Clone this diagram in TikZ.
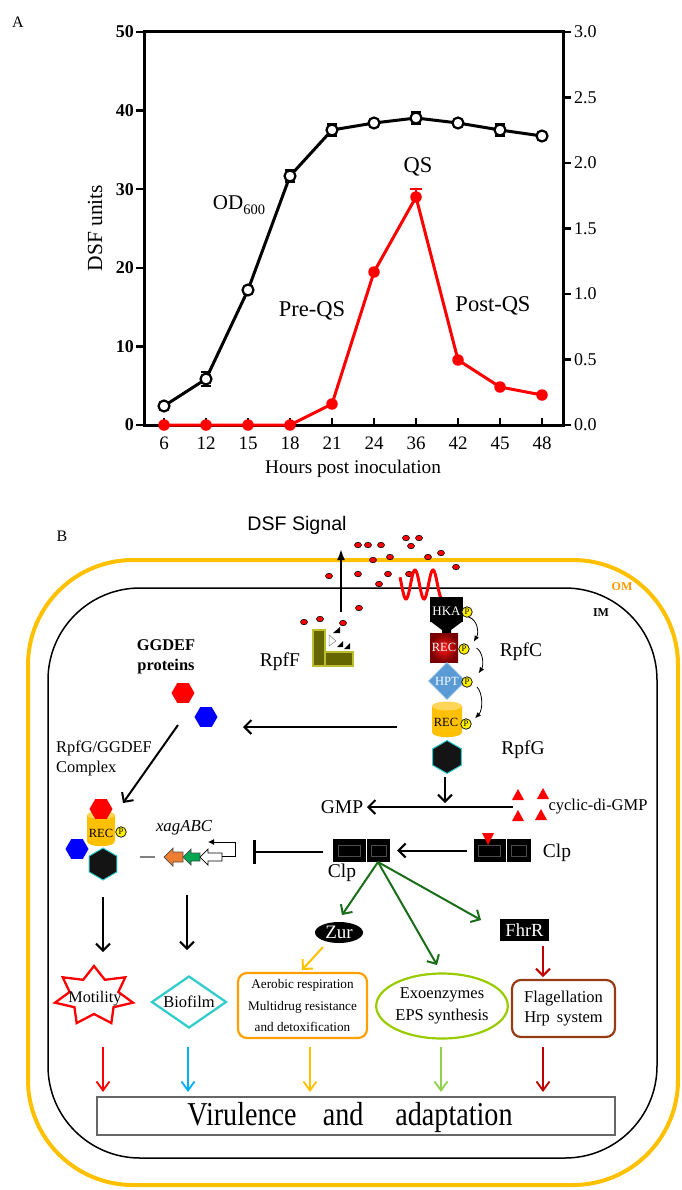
\documentclass[tikz,border=0pt]{standalone}
\usepackage{fontspec}
\setmainfont{Liberation Serif}
\newfontfamily\sansf{Liberation Sans}
\usetikzlibrary{arrows.meta,shapes.geometric,calc}
\newcommand\fsz[1]{\fontsize{#1}{#1}\selectfont}
\newcommand\fszl[2]{\fontsize{#1}{#2}\selectfont}
\definecolor{omc}{RGB}{255,192,0}
\definecolor{omlab}{RGB}{255,153,0}
\definecolor{olivef}{RGB}{102,102,0}
\definecolor{olived}{RGB}{190,190,40}
\definecolor{recred}{RGB}{120,0,0}
\definecolor{hptblue}{RGB}{91,155,213}
\definecolor{recy}{RGB}{255,192,0}
\definecolor{cyanb}{RGB}{51,204,204}
\definecolor{dgreen}{RGB}{26,110,26}
\definecolor{orbox}{RGB}{255,160,0}
\definecolor{ygreen}{RGB}{153,204,0}
\definecolor{brownb}{RGB}{150,60,20}
\definecolor{dred}{RGB}{192,0,0}
\definecolor{lblue}{RGB}{0,176,240}
\definecolor{lgreen}{RGB}{146,208,80}
\definecolor{orng}{RGB}{237,125,49}
\definecolor{grn}{RGB}{0,166,81}
\begin{document}
\begin{tikzpicture}[x=1pt,y=-1pt,
 odm/.style={circle,draw=black,fill=white,line width=2.2pt,minimum size=11pt,inner sep=0},
 dsm/.style={circle,fill=red,minimum size=11.5pt,inner sep=0},
 dsfdot/.style={ellipse,draw=black,line width=0.6pt,fill=red,minimum width=7pt,minimum height=5.5pt,inner sep=0},
 pc/.style={circle,draw=black,line width=0.7pt,fill=yellow,minimum size=10.5pt,inner sep=0,font=\fsz{8.5}},
 blkarr/.style={line width=2pt,-{Straight Barb[length=7pt,width=14pt]}},
 grarr/.style={dgreen,line width=2pt,-{Straight Barb[length=7pt,width=14pt]}},
 hexr/.style={regular polygon,regular polygon sides=6,fill=red,minimum size=23pt,inner sep=0},
 hexb/.style={regular polygon,regular polygon sides=6,fill=blue,minimum size=23pt,inner sep=0},
 hexk/.style={regular polygon,regular polygon sides=6,shape border rotate=30,fill=black!92,draw=cyanb,line width=1pt,minimum size=33pt,inner sep=0},
 clpbox/.style={rectangle,fill=black,minimum width=57pt,minimum height=23pt,inner sep=0},
 pthin/.style={line width=0.8pt,-{Latex[length=6pt,width=5pt]}},
 lbl/.style={inner sep=0,font=\fsz{19.5}}
]
\useasboundingbox (0,0) rectangle (681,1190);

% ================= Panel A =================
\node[font=\fsz{16}] (labA) at (18,22) {A};
\draw[line width=3pt] (144,32) rectangle (563,425);
\foreach \v in {0,10,20,30,40,50} {
  \draw[line width=2.5pt] (136,{425-\v*7.86}) -- (144,{425-\v*7.86});
  \node[anchor=east,font=\fsz{18}\bfseries,inner sep=0] (ly\v) at (134,{425-\v*7.86}) {\v};
}
\foreach \v/\t in {0/0.0,1/0.5,2/1.0,3/1.5,4/2.0,5/2.5,6/3.0} {
  \draw[line width=2.5pt] (563,{425-\v*65.5}) -- (571,{425-\v*65.5});
  \node[anchor=west,font=\fsz{18},inner sep=0] (ry\v) at (574,{425-\v*65.5}) {\t};
}
\foreach \x/\t [count=\i] in {164/6,206/12,248/15,290/18,332/21,374/24,416/36,458/42,500/45,542/48} {
  \draw[line width=2.5pt] (\x,425) -- (\x,418);
  \node[font=\fsz{19},inner sep=0] (xt\i) at (\x,443) {\t};
}
\node[font=\fsz{19.3}] (xlab) at (353,469) {Hours post inoculation};
\node[font=\fsz{21.5},rotate=90] (ylab) at (95,228) {DSF units};

% OD600 series
\draw[line width=3pt] (164,406) -- (206,379) -- (248,290) -- (290,176) -- (332,130) -- (374,123) -- (416,118) -- (458,123) -- (500,130) -- (542,136);
\foreach \x/\a/\b in {206/372/386,290/170/182,332/124/136,416/112/124,500/124/136} {
  \draw[line width=2.2pt] (\x,\a) -- (\x,\b);
  \draw[line width=2.2pt] (\x-5,\a) -- (\x+5,\a);
  \draw[line width=2.2pt] (\x-5,\b) -- (\x+5,\b);
}
\foreach \x/\y [count=\i] in {164/406,206/379,248/290,290/176,332/130,374/123,416/118,458/123,500/130,542/136}
  \node[odm] (om\i) at (\x,\y) {};

% DSF series
\draw[red,line width=3pt] (164,425) -- (206,425) -- (248,425) -- (290,425) -- (332,404) -- (374,272) -- (416,197) -- (458,360) -- (500,387) -- (542,395);
\draw[red,line width=2.2pt] (416,189) -- (416,197) (410,189) -- (422,189);
\foreach \x/\y [count=\i] in {164/425,206/425,248/425,290/425,332/404,374/272,416/197,458/360,500/387,542/395}
  \node[dsm] (rm\i) at (\x,\y) {};

\node[font=\fsz{21}] (odlab) at (239,205) {OD\raisebox{-0.5ex}{\fsz{14.5}600}};
\node[font=\fsz{22.5}] (qslab) at (418,167) {QS};
\node[font=\fsz{22.5}] (prelab) at (312,311) {Pre-QS};
\node[font=\fsz{22.5}] (postlab) at (493,306) {Post-QS};

% ================= Panel B =================
\node[font=\fsz{16}] (labB) at (62,536) {B};
\node[font=\sansf\fsz{19.6}] (dsfsig) at (297,525) {DSF Signal};

\draw[omc,line width=4pt,rounded corners=105pt] (28,560) rectangle (678,1185);
\draw[black,line width=1.5pt,rounded corners=92pt] (48,588) rectangle (657,1158);
\node[text=omlab,font=\fsz{12}\bfseries] (omlabel) at (622,587) {OM};
\node[font=\fsz{12}\bfseries] (imlabel) at (601,613) {IM};

% DSF export arrow
\coordinate (dsfstart) at (341,612);
\coordinate (dsfend) at (341,549);
\draw[line width=2pt,-{Latex[length=11pt,width=8pt]}] (dsfstart) -- (dsfend);

% DSF molecules
\foreach \x/\y [count=\i] in {304/622,320/619,343/623,329/576,358/574,379/584,359/608,358/545,368/545,381/545,373/560,390/557,406/538,419/538,411/546,428/557,441/553,456/567,388/574,409/574}
  \node[dsfdot] (d\i) at (\x,\y) {};

% transmembrane sensor
\draw[red,line width=3pt,domain=400:441.5,samples=80,smooth] plot (\x,{584.5-14.5*cos(20*(\x-415))});

% RpfF
\draw[olived,fill=olivef,line width=1.5pt] (313,630) rectangle (325,666);
\draw[olived,fill=olivef,line width=1.5pt] (325,652) rectangle (353,666);
\fill (333,633) -- (340,627) -- (340,633) -- cycle;
\draw[gray,fill=white,line width=0.5pt] (329,635) -- (336,641) -- (329,646) -- cycle;
\fill (337,647) -- (343,641) -- (343,647) -- cycle;
\fill (344,649) -- (350,643) -- (350,649) -- cycle;
\node[lbl] (rpff) at (280,662) {RpfF};

% RpfC: HKA / REC / HPT
\fill (430,597) rectangle (463,622);
\fill (430,621) -- (463,621) -- (451,630) -- (451,633) -- (442,633) -- (442,630) -- cycle;
\node[text=white,font=\fsz{13},inner sep=0] (hka) at (446.5,611) {HKA};
\node[rectangle,inner color=red!90!white,outer color=recred,minimum width=28pt,minimum height=29pt,inner sep=0,text=white,font=\fsz{12.5}] (recc) at (444,647.5) {REC};
\node[diamond,fill=hptblue,draw=hptblue!70!white,line width=0.8pt,minimum width=37pt,minimum height=37pt,inner sep=0] (hptd) at (447,681) {};
\node[text=white,font=\fsz{12.5},inner sep=0] (hpt) at (447,681) {HPT};

% RpfG: REC cylinder + HD-GYP
\fill[recy] (432,706) -- (432,732) .. controls (432,739) and (462,739) .. (462,732) -- (462,706) -- cycle;
\fill[recy!65!white] (447,706) ellipse[x radius=15,y radius=4.5];
\node[font=\fsz{12.5},inner sep=0] (recg) at (446,722) {REC};
\node[hexk] (hdg) at (447,757) {};

\node[pc] (p1) at (467,612) {P};
\node[pc] (p2) at (464,649) {P};
\node[pc] (p3) at (467,682) {P};
\node[pc] (p4) at (466,724) {P};
\draw[pthin] ($(p1)+(1.6,5)$) .. controls (478,620) and (479,633) .. ($(p2)+(9.7,-7.3)$);
\draw[pthin] ($(p2)+(12.5,-1)$) .. controls (483,652) and (484,665) .. ($(p3)+(11.7,-8.7)$);
\draw[pthin] ($(p3)+(10,5)$) .. controls (483,693) and (483,710) .. ($(p4)+(9,-5.7)$);

\node[lbl] (rpfc) at (521,652) {RpfC};
\node[lbl] (rpfg) at (523,750) {RpfG};

% GGDEF proteins
\node[font=\fszl{16.4}{20}\bfseries,align=center,inner sep=0] (ggdef) at (166,657) {GGDEF\\proteins};
\node[hexr] (ggr) at (183,693) {};
\node[hexb] (ggb) at (206,717) {};
\coordinate (rgl) at (397,727);
\coordinate (rgr) at (243,727);
\draw[blkarr] (rgl) -- (rgr);
\coordinate (cxs) at (178,725);
\coordinate (cxe) at (123,803);
\draw[blkarr] (cxs) -- (cxe);
\node[font=\fszl{16.4}{20},align=left,anchor=west,inner sep=0] (cxlab) at (56,758) {RpfG/GGDEF\\Complex};

% RpfG/GGDEF complex
\node[hexk,minimum size=32pt] (cxk) at (103,864) {};
\node[hexb] (cxb) at (77,849) {};
\fill[recy] (87,815) -- (87,841) .. controls (87,848) and (115,848) .. (115,841) -- (115,815) -- cycle;
\fill[recy!65!white] (101,815) ellipse[x radius=14,y radius=4];
\node[hexr] (cxr) at (101,809) {};
\node[font=\fsz{12.5},inner sep=0] (cxrec) at (101,833) {REC};
\node[pc] (p5) at (121,832) {P};

% xagABC operon
\draw[gray,line width=2pt] (140,857) -- (155,857);
\draw[black!70,line width=0.7pt,fill=orng] (164,857) -- (173,848) -- (173,852) -- (183,852) -- (183,862) -- (173,862) -- (173,866) -- cycle;
\draw[black!70,line width=0.7pt,fill=grn] (183,857) -- (191,849) -- (191,853) -- (200,853) -- (200,861) -- (191,861) -- (191,865) -- cycle;
\draw[black,line width=0.7pt,fill=white] (200,857) -- (208,849) -- (208,853) -- (222,853) -- (222,861) -- (208,861) -- (208,865) -- cycle;
\coordinate (prs) at (222,856);
\coordinate (pre) at (208,842);
\draw[line width=0.8pt,-{Latex[length=6pt,width=6pt]}] (prs) -- (235,856) -- (235,842) -- (pre);
\node[font=\fsz{16.8}\itshape,inner sep=0] (xag) at (184,828) {xagABC};

% Clp
\node[clpbox] (clpL) at (361.5,850.5) {};
\node[clpbox] (clpR) at (502,850.5) {};
\draw[white,line width=1pt] (366,839) -- (366,862) (506.5,839) -- (506.5,862);
\draw[black!70!white,line width=0.5pt] (338,845) rectangle (360,856) (371,845) rectangle (386,856) (478,845) rectangle (500,856) (511,845) rectangle (526,856);
\fill[red] (482,833) -- (494,833) -- (488,845) -- cycle;
\node[lbl] (clpRl) at (557,853) {Clp};
\node[lbl] (clpLl) at (342,873) {Clp};
\draw[blkarr,shorten <=6pt,shorten >=7pt] (clpR.west) -- (clpL.east);
\coordinate (inhb) at (253,851.5);
\draw[line width=2pt,-{Bar[width=24pt,line width=2.5pt]},shorten <=10pt] (clpL.west |- inhb) -- (inhb);

% GMP / c-di-GMP
\node[lbl] (gmp) at (342,807) {GMP};
\coordinate (gms) at (513,807);
\coordinate (gme) at (367,807);
\draw[blkarr] (gms) -- (gme);
\coordinate (hdgd) at (445,803);
\draw[blkarr,shorten <=3pt] (hdg.south -| hdgd) -- (hdgd);
\foreach \x/\y [count=\i] in {518/795,543/794,518/816,541/815}
  \fill[red] (\x-6,\y+5) -- (\x+6,\y+5) -- (\x,\y-6) -- cycle;
\node[font=\fsz{16.5},inner sep=0] (cdg) at (598,807) {cyclic-di-GMP};

% Clp targets
\coordinate (gs) at (378,862);
\node[ellipse,fill=black,minimum width=48pt,minimum height=21pt,inner sep=0,text=white,font=\fsz{19}] (zur) at (339,932.5) {Zur};
\node[fill=black,minimum width=49pt,minimum height=22pt,inner sep=0,text=white,font=\fsz{18.5}] (fhrr) at (524.5,930) {FhrR};
\coordinate (g1) at (342,915);
\coordinate (g2) at (437,965);
\coordinate (g3) at (481,920);
\draw[grarr] (gs) -- (g1);
\draw[grarr] (gs) -- (g2);
\draw[grarr] (gs) -- (g3);

% phenotype boxes
\draw[red,line width=2.3pt] plot[samples at={0,...,13},variable=\k]
  ({94+ifthenelse(mod(\k,2)==0,40,25)*cos(90+\k*360/14)},{996-ifthenelse(mod(\k,2)==0,30,18)*sin(90+\k*360/14)}) -- cycle;
\node[font=\fsz{16.2},inner sep=0] (mot) at (95,999) {Motility};
\node[diamond,draw=cyanb,line width=2.3pt,minimum width=75pt,minimum height=52pt,inner sep=0] (biod) at (189,1002) {};
\node[font=\fsz{16.5},inner sep=0] (bio) at (189,1002) {Biofilm};
\node[draw=orbox,line width=2.2pt,rounded corners=9pt,minimum width=129pt,minimum height=65pt,inner sep=0,align=center,font=\fszl{13.2}{21.5}] (aer) at (302.5,1005.5) {Aerobic respiration\\Multidrug resistance\\and detoxification};
\node[ellipse,draw=ygreen,line width=2.2pt,minimum width=120pt,minimum height=65pt,inner sep=0,align=center,font=\fszl{16.5}{22}] (exo) at (442,1006) {Exoenzymes\\EPS synthesis};
\node[draw=brownb,line width=2.2pt,rounded corners=9pt,minimum width=103pt,minimum height=57pt,inner sep=0,align=center,font=\fszl{16.5}{19.5}] (flag) at (563.5,1008.5) {Flagellation\\Hrp\hspace{7pt}system};

\coordinate (m1) at (103,897); \coordinate (m2) at (103,952);
\coordinate (b1) at (187,895); \coordinate (b2) at (187,950);
\draw[blkarr] (m1) -- (m2);
\draw[blkarr] (b1) -- (b2);
\coordinate (z1) at (323,947); \coordinate (z2) at (302,970);
\draw[omc,line width=2pt,-{Straight Barb[length=7pt,width=14pt]}] (z1) -- (z2);
\coordinate (f1) at (543,946); \coordinate (f2) at (543,977);
\draw[dred,line width=2pt,-{Straight Barb[length=7pt,width=14pt]}] (f1) -- (f2);

% virulence
\foreach \x/\c [count=\i] in {103/red,188/lblue,310/omc,441/lgreen,543/dred} {
  \coordinate (bt\i) at (\x,1047);
  \coordinate (bb\i) at (\x,1092);
  \draw[\c,line width=1.8pt,-{Straight Barb[length=9pt,width=13pt]}] (bt\i) -- (bb\i);
}
\node[draw=gray!80!black,line width=1.2pt,minimum width=518pt,minimum height=38pt,inner sep=0] (vir) at (356,1116) {};
\node[font=\fsz{29},inner sep=0] (virtxt) at (350,1117) {\scalebox{0.97}[1.15]{Virulence\hspace*{27pt}and\hspace*{33pt}adaptation}};
\end{tikzpicture}
\end{document}
